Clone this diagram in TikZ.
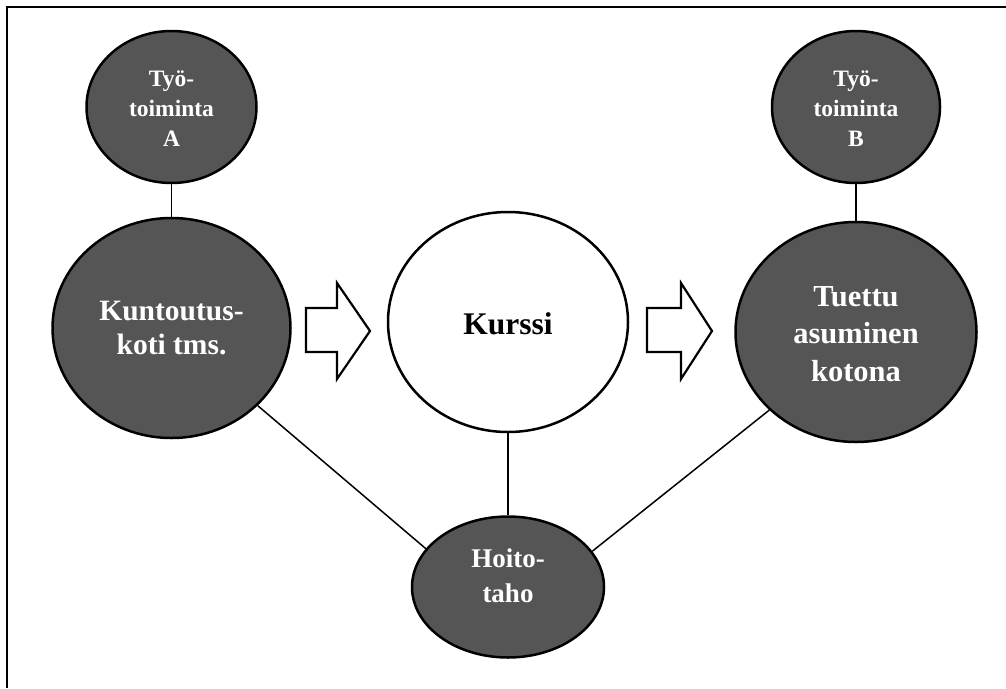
\documentclass[tikz,border=0pt]{standalone}
\usepackage{fontspec}
\setmainfont{Liberation Serif}
\usetikzlibrary{shapes.geometric}
\definecolor{darkfill}{HTML}{555555}
\tikzset{
  bubble/.style={ellipse, draw=black, line width=2.5pt, fill=darkfill, inner sep=0pt},
  whitebubble/.style={ellipse, draw=black, line width=2.5pt, fill=white, inner sep=0pt},
  wtext/.style={text=white, font=\bfseries, align=center, inner sep=0pt},
  btext/.style={text=black, font=\bfseries, align=center, inner sep=0pt},
  link/.style={draw=black, line width=1.5pt},
  blockarrow/.style={draw=black, line width=2.2pt, fill=white, line join=miter},
  frameline/.style={draw=black, line width=2pt}
}
\begin{document}
\begin{tikzpicture}[x=1pt,y=-1pt]
\useasboundingbox (0,0) rectangle (1006,688);
% frame (left and top only)
\draw[frameline] (7,688) -- (7,7) -- (1006,7);

% ellipses
\node[bubble, minimum width=170pt, minimum height=152pt] (wa) at (171.5,107) {};
\node[bubble, minimum width=168pt, minimum height=152pt] (wb) at (856,107) {};
\node[bubble, minimum width=238pt, minimum height=220pt] (kk) at (171.5,328) {};
\node[whitebubble, minimum width=240pt, minimum height=220pt] (ku) at (508,322) {};
\node[bubble, minimum width=241pt, minimum height=220pt] (ta) at (856,332) {};
\node[bubble, minimum width=192pt, minimum height=141pt] (ho) at (508,587) {};

% connectors
\draw[link] (wa.south) -- (kk.north);
\draw[link] (wb.south) -- (ta.north);
\draw[link] (ku.south) -- (ho.north);
\draw[link] (kk.-42.6) -- (ho.155.7);
\draw[link] (ta.-138.2) -- (ho.23.5);

% texts
\node[wtext, font=\bfseries\fontsize{23.5}{30}\selectfont] (twa) at (171.5,109) {Työ-\\toiminta\\A};
\node[wtext, font=\bfseries\fontsize{23.5}{30}\selectfont] (twb) at (856,109) {Työ-\\toiminta\\B};
\node[wtext, font=\bfseries\fontsize{29.5}{34}\selectfont] (tkk) at (171.5,328) {Kuntoutus-\\koti tms.};
\node[btext, font=\bfseries\fontsize{31.5}{36}\selectfont] (tku) at (508,324) {Kurssi};
\node[wtext, font=\bfseries\fontsize{30.5}{37.5}\selectfont] (tta) at (856,334) {Tuettu\\asuminen\\kotona};
\node[wtext, font=\bfseries\fontsize{27}{35}\selectfont] (tho) at (508,576) {Hoito-\\taho};

% block arrows
\draw[blockarrow] (306,308) -- (337,308) -- (337,283) -- (370,331) -- (337,379) -- (337,352) -- (306,352) -- cycle;
\draw[blockarrow] (647,308) -- (681,308) -- (681,283) -- (712,331) -- (681,379) -- (681,352) -- (647,352) -- cycle;
\end{tikzpicture}
\end{document}
